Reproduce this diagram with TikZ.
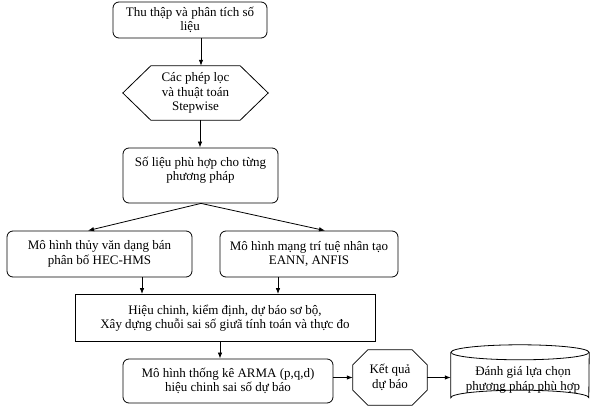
\documentclass[tikz,border=0pt]{standalone}
\usepackage{fontspec}
\setmainfont{Liberation Serif}
\usetikzlibrary{arrows.meta,calc}
\tikzset{
  txt/.style={align=center, inner sep=0pt, font=\fontsize{13}{14.5}\selectfont},
  box/.style={txt, draw, rounded corners=6pt, line width=0.8pt},
  rbox/.style={txt, draw, line width=0.8pt},
  shp/.style={line width=0.8pt},
  arr/.style={-{Latex[length=6pt,width=4.5pt]}, line width=0.8pt}
}
\begin{document}
\begin{tikzpicture}[x=1pt,y=-1pt]
\useasboundingbox (0,0) rectangle (590,406);
% boxes
\node[box, minimum width=154pt, minimum height=36pt] (b1) at (190,20) {Thu thập và phân tích số\\liệu};
\node[txt, minimum width=145pt, minimum height=54pt] (hex) at (195.5,93) {Các phép lọc\\và thuật toán\\Stepwise};
\draw[shp] (hex.west) -- ($(hex.north west)+(28,0)$) -- ($(hex.north east)+(-28,0)$) -- (hex.east)
  -- ($(hex.south east)+(-28,0)$) -- ($(hex.south west)+(28,0)$) -- cycle;
\node[box, minimum width=155pt, minimum height=55pt] (b3) at (200.5,175.5) {};
\node[txt] (b3t) at (200.5,170) {Số liệu phù hợp cho từng\\phương pháp};
\node[box, minimum width=185pt, minimum height=46pt] (lb) at (99.5,254) {Mô hình thủy văn dạng bán\\phân bố HEC-HMS};
\node[box, minimum width=178pt, minimum height=46pt] (rb) at (309,254) {Mô hình mạng trí tuệ nhân tạo\\EANN, ANFIS};
\node[rbox, minimum width=300pt, minimum height=47pt] (b4) at (225,318) {Hiệu chinh, kiểm định, dự báo sơ bộ,\\Xây dựng chuỗi sai số giưã tính toán và thực đo};
\node[box, minimum width=210pt, minimum height=44pt] (b5) at (228,381) {Mô hình thống kê ARMA (p,q,d)\\hiệu chinh sai số dự báo};
\node[txt, minimum width=74pt, minimum height=55pt] (oct) at (390,377.5) {Kết quả\\dự báo};
\draw[shp] ($(oct.north west)+(15,0)$) -- ($(oct.north east)+(-15,0)$) -- ($(oct.north east)+(0,15)$)
  -- ($(oct.south east)+(0,-15)$) -- ($(oct.south east)+(-15,0)$) -- ($(oct.south west)+(15,0)$)
  -- ($(oct.south west)+(0,-15)$) -- ($(oct.north west)+(0,15)$) -- cycle;
\node[txt, minimum width=138pt, minimum height=60pt] (cyl) at (520,375) {};
\node[txt] (cylt) at (523,380) {Đánh giá lựa chọn\\phương pháp phù hợp};
\draw[shp] ($(cyl.north)+(0,7.5)$) ellipse [x radius=69pt, y radius=7.5pt];
\draw[shp] ($(cyl.north west)+(0,7.5)$) -- ($(cyl.south west)+(0,-7.5)$)
  arc [start angle=180, end angle=360, x radius=69pt, y radius=-7.5pt]
  -- ($(cyl.north east)+(0,7.5)$);
% connector x positions
\coordinate (x1) at (201,0);
\coordinate (x2) at (200,0);
\coordinate (x3) at (88,0);
\coordinate (x4) at (325,0);
\coordinate (x5) at (142,0);
\coordinate (x6) at (278,0);
\coordinate (x7) at (220,0);
% connectors
\draw[arr] (b1.south -| x1) -- (hex.north -| x1);
\draw[arr] (hex.south -| x2) -- (b3.north -| x2);
\draw[arr] (b3.south -| x1) -- (lb.north -| x3);
\draw[arr] (b3.south -| x1) -- (rb.north -| x4);
\draw[arr] (lb.south -| x5) -- (b4.north -| x5);
\draw[arr] (rb.south -| x6) -- (b4.north -| x6);
\draw[arr] (b4.south -| x7) -- (b5.north -| x7);
\draw[arr] (oct.west -| b5.east) -- (oct.west);
\draw[arr] (oct.east) -- (oct.east -| cyl.west);
\end{tikzpicture}
\end{document}
